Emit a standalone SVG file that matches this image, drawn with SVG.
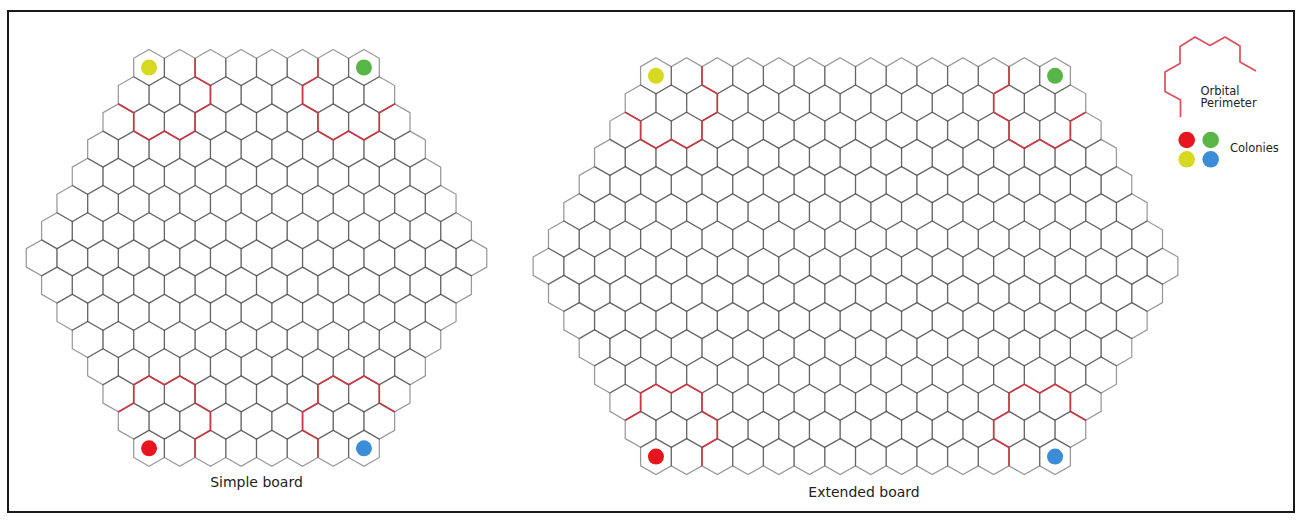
<svg xmlns="http://www.w3.org/2000/svg" xmlns:xlink="http://www.w3.org/1999/xlink" width="1299" height="525" viewBox="0 0 1299 525">
<style>
.hx{fill:none;stroke:#333;stroke-opacity:0.5;stroke-width:1.25}
.per{fill:none;stroke:#d8303c;stroke-width:1.7;stroke-linejoin:round;stroke-opacity:0.85}
.lbl{font-family:"DejaVu Sans","Verdana",sans-serif;fill:#222}
</style>
<defs>
<path id="h" class="hx" d="M0,-18 L15.35,-9.2 L15.35,9.2 L0,18 L-15.35,9.2 L-15.35,-9.2 Z"/>
<g id="r2"><use href="#h"/><use href="#h" x="30.7"/></g>
<g id="r4"><use href="#r2"/><use href="#r2" x="61.4"/></g>
<g id="r8"><use href="#r4"/><use href="#r4" x="122.8"/></g>
<g id="r9"><use href="#r8"/><use href="#h" x="245.6"/></g>
<g id="r10"><use href="#r9"/><use href="#h" x="276.3"/></g>
<g id="r11"><use href="#r10"/><use href="#h" x="307"/></g>
<g id="r12"><use href="#r11"/><use href="#h" x="337.7"/></g>
<g id="r13"><use href="#r12"/><use href="#h" x="368.4"/></g>
<g id="r14"><use href="#r13"/><use href="#h" x="399.1"/></g>
<g id="r15"><use href="#r14"/><use href="#h" x="429.8"/></g>
<g id="r16"><use href="#r15"/><use href="#h" x="460.5"/></g>
<g id="r17"><use href="#r16"/><use href="#h" x="491.2"/></g>
<g id="r18"><use href="#r17"/><use href="#h" x="521.9"/></g>
<g id="r19"><use href="#r18"/><use href="#h" x="552.6"/></g>
<g id="r20"><use href="#r19"/><use href="#h" x="583.3"/></g>
<g id="r21"><use href="#r20"/><use href="#h" x="614"/></g>
<path id="perim" class="per" d="M46.05,-9.2 L46.05,9.2 L61.4,18 L61.4,36.4 L46.05,45.2 L46.05,63.6 L30.7,72.4 L15.35,63.6 L0,72.4 L-15.35,63.6 L-15.35,45.2 L-30.7,36.4"/>
</defs>
<rect x="0" y="0" width="1299" height="525" fill="#fff"/>
<rect x="8" y="11" width="1286" height="501" fill="none" stroke="#1a1a1a" stroke-width="2"/>

<g id="simple-board">
<use href="#r8" x="149.05" y="67.5"/>
<use href="#r9" x="133.7" y="94.7"/>
<use href="#r10" x="118.35" y="121.9"/>
<use href="#r11" x="103" y="149.1"/>
<use href="#r12" x="87.65" y="176.3"/>
<use href="#r13" x="72.3" y="203.5"/>
<use href="#r14" x="56.95" y="230.7"/>
<use href="#r15" x="41.6" y="257.9"/>
<use href="#r14" x="56.95" y="285.1"/>
<use href="#r13" x="72.3" y="312.3"/>
<use href="#r12" x="87.65" y="339.5"/>
<use href="#r11" x="103" y="366.7"/>
<use href="#r10" x="118.35" y="393.9"/>
<use href="#r9" x="133.7" y="421.1"/>
<use href="#r8" x="149.05" y="448.3"/>
</g>
<g id="simple-perimeters">
<use href="#perim" transform="translate(149.05,67.5)"/>
<use href="#perim" transform="translate(363.95,67.5) scale(-1,1)"/>
<use href="#perim" transform="translate(149.05,448.3) scale(1,-1)"/>
<use href="#perim" transform="translate(363.95,448.3) scale(-1,-1)"/>
</g>
<g id="simple-colonies">
<circle cx="149.05" cy="67.5" r="8" fill="#d6d920"/>
<circle cx="363.95" cy="67.5" r="8" fill="#58b646"/>
<circle cx="149.05" cy="448.3" r="8" fill="#e8151f"/>
<circle cx="363.95" cy="448.3" r="8" fill="#3a8dd6"/>
</g>
<text class="lbl" x="256.5" y="487" font-size="14" text-anchor="middle">Simple board</text>

<g id="extended-board">
<use href="#r14" x="655.95" y="75.8"/>
<use href="#r15" x="640.6" y="103"/>
<use href="#r16" x="625.25" y="130.2"/>
<use href="#r17" x="609.9" y="157.4"/>
<use href="#r18" x="594.55" y="184.6"/>
<use href="#r19" x="579.2" y="211.8"/>
<use href="#r20" x="563.85" y="239"/>
<use href="#r21" x="548.5" y="266.2"/>
<use href="#r20" x="563.85" y="293.4"/>
<use href="#r19" x="579.2" y="320.6"/>
<use href="#r18" x="594.55" y="347.8"/>
<use href="#r17" x="609.9" y="375"/>
<use href="#r16" x="625.25" y="402.2"/>
<use href="#r15" x="640.6" y="429.4"/>
<use href="#r14" x="655.95" y="456.6"/>
</g>
<g id="extended-perimeters">
<use href="#perim" transform="translate(655.95,75.8)"/>
<use href="#perim" transform="translate(1055.05,75.8) scale(-1,1)"/>
<use href="#perim" transform="translate(655.95,456.6) scale(1,-1)"/>
<use href="#perim" transform="translate(1055.05,456.6) scale(-1,-1)"/>
</g>
<g id="extended-colonies">
<circle cx="655.95" cy="75.8" r="8" fill="#d6d920"/>
<circle cx="1055.05" cy="75.8" r="8" fill="#58b646"/>
<circle cx="655.95" cy="456.6" r="8" fill="#e8151f"/>
<circle cx="1055.05" cy="456.6" r="8" fill="#3a8dd6"/>
</g>
<text class="lbl" x="864" y="497" font-size="14" text-anchor="middle">Extended board</text>

<g id="legend">
<polyline class="per" points="1180.5,117 1180.5,100 1165,91.5 1165,72 1180,63.5 1180,46.5 1195,37 1210,45.5 1225,37 1240,46 1240,62 1256,71"/>
<text class="lbl" x="1200.5" y="95" font-size="11.5">Orbital</text>
<text class="lbl" x="1200.5" y="107" font-size="11.5">Perimeter</text>
<circle cx="1186.7" cy="140" r="8.3" fill="#e8151f"/>
<circle cx="1210.7" cy="140" r="8.3" fill="#58b646"/>
<circle cx="1186.7" cy="159.3" r="8.3" fill="#d6d920"/>
<circle cx="1210.7" cy="159.3" r="8.3" fill="#3a8dd6"/>
<text class="lbl" x="1230" y="152" font-size="11.5">Colonies</text>
</g>
</svg>
